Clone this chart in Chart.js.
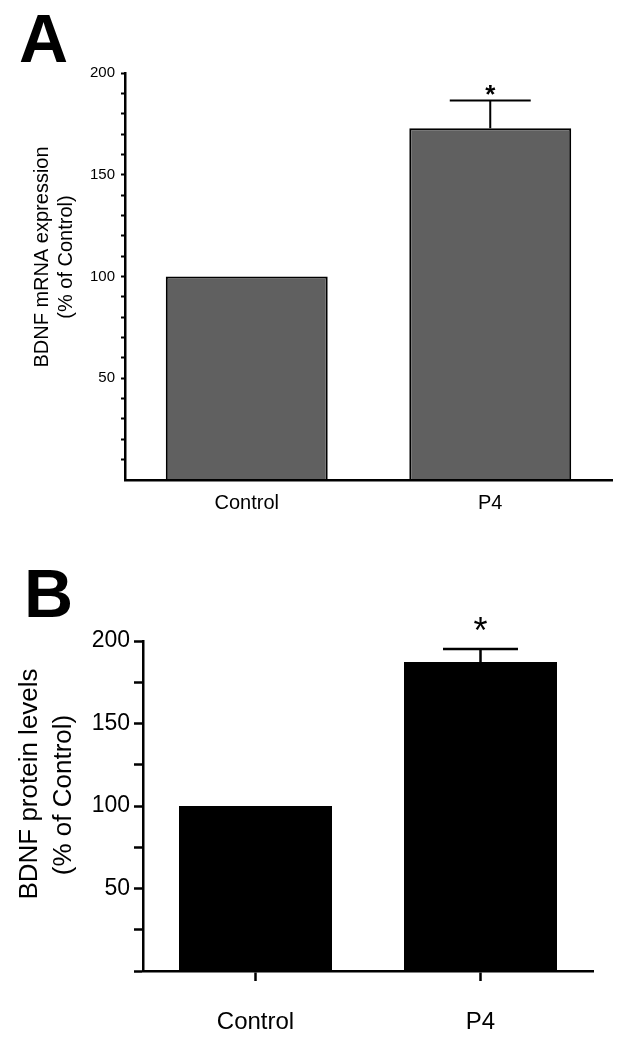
<!DOCTYPE html>
<html>
<head>
<meta charset="utf-8">
<script src="https://cdn.jsdelivr.net/npm/chart.js@4.4.1/dist/chart.umd.min.js"></script>
<style>
  html, body { margin: 0; padding: 0; background: #fff; }
  .panel { position: absolute; left: 0; width: 622px; }
  #panelA { top: 0; height: 540px; }
  #panelB { top: 540px; height: 499px; }
</style>
</head>
<body>
<div class="panel" id="panelA"><canvas id="chartA"></canvas></div>
<div class="panel" id="panelB"><canvas id="chartB"></canvas></div>
<script>
const categories = ["Control", "P4"];

// A: BDNF mRNA expression (% of Control)
const mrnaValues = [100, 172.8];
const mrnaErrors = [0, 13.7];
const mrnaStars = ["", "*"];

// B: BDNF protein levels (% of Control)
const proteinValues = [100, 187.3];
const proteinErrors = [0, 7.9];
const proteinStars = ["", "*"];

const FONT = "'Liberation Sans', Arial, Helvetica, sans-serif";
Chart.defaults.font.family = FONT;
Chart.defaults.color = "#000";

// error bar + significance star, positioned from the bar elements and y scale
function errorBarPlugin(errors, stars, style) {
    return {
        id: "errorBars",
        afterDatasetsDraw(chart) {
            const ctx = chart.ctx;
            const meta = chart.getDatasetMeta(0);
            const yScale = chart.scales.y;
            const values = chart.data.datasets[0].data;
            ctx.save();
            ctx.strokeStyle = "#000";
            ctx.lineWidth = style.lineWidth;
            meta.data.forEach((bar, i) => {
                const top = yScale.getPixelForValue(values[i] + errors[i]);
                if (errors[i] > 0) {
                    const half = bar.width * style.capRatio / 2;
                    ctx.beginPath();
                    ctx.moveTo(bar.x, bar.y);
                    ctx.lineTo(bar.x, top);
                    ctx.moveTo(bar.x - half, top);
                    ctx.lineTo(bar.x + half, top);
                    ctx.stroke();
                }
                if (stars[i]) {
                    ctx.font = style.starFont;
                    ctx.fillStyle = "#000";
                    ctx.textAlign = "center";
                    ctx.textBaseline = "alphabetic";
                    const m = ctx.measureText(stars[i]);
                    const cy = top - style.starGap;
                    ctx.fillText(stars[i], bar.x, cy + (m.actualBoundingBoxAscent - m.actualBoundingBoxDescent) / 2);
                }
            });
            ctx.restore();
        }
    };
}

// panel letter and the two-line rotated y title
function panelTextPlugin(letter, title, style) {
    return {
        id: "panelText",
        afterDraw(chart) {
            const ctx = chart.ctx;
            ctx.save();
            ctx.fillStyle = "#000";
            ctx.font = style.letterFont;
            ctx.textAlign = "left";
            ctx.textBaseline = "alphabetic";
            ctx.fillText(letter, style.letterX, style.letterY);
            ctx.font = style.titleFont;
            ctx.textAlign = "center";
            title.forEach((line, i) => {
                ctx.save();
                ctx.translate(style.titleX[i], style.titleY[i]);
                ctx.rotate(-Math.PI / 2);
                ctx.fillText(line, 0, 0);
                ctx.restore();
            });
            ctx.restore();
        }
    };
}

const chartA = new Chart(document.getElementById("chartA"), {
    type: "bar",
    data: {
        labels: categories,
        datasets: [{
            data: mrnaValues,
            backgroundColor: "#606060",
            borderColor: "#000",
            borderWidth: 2,
            barPercentage: 0.665,
            categoryPercentage: 1
        }]
    },
    options: {
        responsive: true,
        maintainAspectRatio: false,
        animation: false,
        layout: { padding: { top: 73, right: 10, bottom: 10, left: 0 } },
        plugins: { legend: { display: false }, tooltip: { enabled: false } },
        scales: {
            x: {
                grid: { display: false },
                border: { display: true, color: "#000", width: 2.5, z: 1 },
                ticks: { font: { size: 20 }, padding: 3 },
                afterFit: s => { s.height = 50; }
            },
            y: {
                min: 0,
                max: 200,
                grid: { display: true, drawOnChartArea: false, drawTicks: true, tickLength: 4, tickColor: "#000", tickWidth: 2 },
                border: { display: true, color: "#000", width: 2.5, z: 1 },
                ticks: {
                    stepSize: 10,
                    font: { size: 15 },
                    padding: 6,
                    callback: v => v === 0 ? null : (v % 50 === 0 ? v : "")
                },
                afterFit: s => { s.width = 125; }
            }
        }
    },
    plugins: [
        errorBarPlugin(mrnaErrors, mrnaStars, { lineWidth: 2, capRatio: 0.5, starFont: "bold 26px " + FONT, starGap: 10 }),
        panelTextPlugin("A", ["BDNF mRNA expression", "(% of Control)"], {
            letterFont: "bold 68px " + FONT, letterX: 19, letterY: 62,
            titleFont: "20px " + FONT, titleX: [48, 72], titleY: [257, 257]
        })
    ]
});

const chartB = new Chart(document.getElementById("chartB"), {
    type: "bar",
    data: {
        labels: categories,
        datasets: [{
            data: proteinValues,
            backgroundColor: "#000",
            borderColor: "#000",
            borderWidth: 0,
            barPercentage: 0.68,
            categoryPercentage: 1
        }]
    },
    options: {
        responsive: true,
        maintainAspectRatio: false,
        animation: false,
        layout: { padding: { top: 101, right: 29, bottom: 10, left: 0 } },
        plugins: { legend: { display: false }, tooltip: { enabled: false } },
        scales: {
            x: {
                grid: { display: true, offset: false, drawOnChartArea: false, drawTicks: true, tickLength: 10, tickColor: "#000", tickWidth: 2.5 },
                border: { display: true, color: "#000", width: 2.5, z: 1 },
                ticks: { font: { size: 24 }, padding: 27 },
                afterFit: s => { s.height = 58; }
            },
            y: {
                min: 0,
                max: 200,
                grid: { display: true, drawOnChartArea: false, drawTicks: true, tickLength: 9, tickColor: "#000", tickWidth: 2.5 },
                border: { display: true, color: "#000", width: 2.5, z: 1 },
                ticks: {
                    stepSize: 25,
                    font: { size: 23 },
                    padding: 4,
                    callback: v => (v !== 0 && v % 50 === 0) ? v : ""
                },
                afterFit: s => { s.width = 143; }
            }
        }
    },
    plugins: [
        errorBarPlugin(proteinErrors, proteinStars, { lineWidth: 2.5, capRatio: 0.49, starFont: "36px " + FONT, starGap: 25 }),
        panelTextPlugin("B", ["BDNF protein levels", "(% of Control)"], {
            letterFont: "bold 68px " + FONT, letterX: 24, letterY: 77,
            titleFont: "26px " + FONT, titleX: [37, 71], titleY: [244, 255]
        })
    ]
});
</script>
</body>
</html>
